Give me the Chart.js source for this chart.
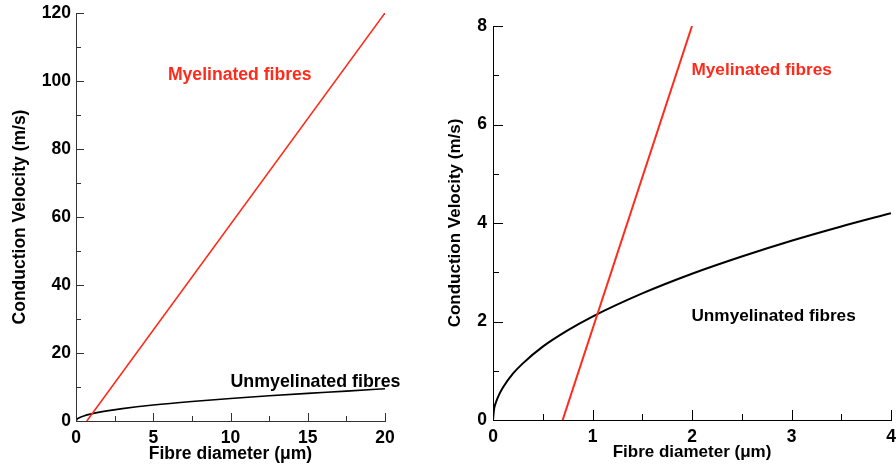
<!DOCTYPE html>
<html>
<head>
<meta charset="utf-8">
<script src="https://cdn.jsdelivr.net/npm/chart.js@4/dist/chart.umd.min.js"></script>
<style>
  html, body { margin: 0; padding: 0; background: #fff; }
  #wrap { position: relative; width: 896px; height: 466px; overflow: hidden; }
  .pane { position: absolute; top: 0; }
</style>
</head>
<body>
<div id="wrap">
  <div class="pane" style="left:0;width:440px;height:466px;"><canvas id="cLeft"></canvas></div>
  <div class="pane" style="left:440px;width:456px;height:466px;"><canvas id="cRight"></canvas></div>
</div>
<script>
// ---------- DATA ----------
// Left panel (0–20 µm)
const leftMyelDiameter = [0.7, 20];
const leftMyelVelocity = [0, 120];
const leftUnmyDiameter = [0, 0.1, 0.25, 0.5, 1, 2, 3, 5, 7.5, 10, 12.5, 15, 17.5, 20];
const leftUnmyVelocity = [0, 0.66, 1.05, 1.5, 2.1, 2.97, 3.64, 4.7, 5.75, 6.64, 7.42, 8.13, 8.78, 9.5];
const leftXTicks = [0, 5, 10, 15, 20];
const leftXMinor = [2.5, 7.5, 12.5, 17.5];
const leftYTicks = [0, 20, 40, 60, 80, 100, 120];
const leftYMinor = [10, 30, 50, 70, 90, 110];

// Right panel (0–4 µm)
const rightMyelDiameter = [0.7, 2];
const rightMyelVelocity = [0, 8];
const rightUnmyDiameter = [0, 0.01, 0.03, 0.06, 0.1, 0.2, 0.3, 0.5, 0.75, 1, 1.5, 2, 2.5, 3, 3.5, 4];
const rightUnmyVelocity = [0, 0.21, 0.36, 0.51, 0.66, 0.94, 1.15, 1.49, 1.82, 2.1, 2.57, 2.97, 3.32, 3.64, 3.93, 4.2];
const rightXTicks = [0, 1, 2, 3, 4];
const rightXMinor = [0.5, 1.5, 2.5, 3.5];
const rightYTicks = [0, 2, 4, 6, 8];
const rightYMinor = [1, 3, 5, 7];

const xTitle = 'Fibre diameter (\u03bcm)';
const yTitle = 'Conduction Velocity (m/s)';
const myelLabel = 'Myelinated fibres';
const unmyLabel = 'Unmyelinated fibres';

// ---------- helpers ----------
const FONT = '"Liberation Sans", Arial, Helvetica, sans-serif';
const RED = '#ff2a1a';
const toPts = (xs, ys) => xs.map((x, i) => ({ x: x, y: ys[i] }));

// Inward tick marks drawn through the chart's own scales
const inwardTicks = {
  id: 'inwardTicks',
  afterDraw(chart, args, o) {
    const ctx = chart.ctx, xs = chart.scales.x, ys = chart.scales.y, a = chart.chartArea;
    ctx.save();
    ctx.strokeStyle = o.color; ctx.lineWidth = 1;
    ctx.beginPath();
    const xl = (v, len) => { const p = Math.round(xs.getPixelForValue(v)) + 0.5; ctx.moveTo(p, a.bottom); ctx.lineTo(p, a.bottom - len); };
    const yl = (v, len) => { const p = Math.round(ys.getPixelForValue(v)) + 0.5; ctx.moveTo(a.left, p); ctx.lineTo(a.left + len, p); };
    o.xMajor.forEach(v => xl(v, o.major));
    o.xMinor.forEach(v => xl(v, o.minor));
    o.yMajor.forEach(v => yl(v, o.major));
    o.yMinor.forEach(v => yl(v, o.minor));
    ctx.stroke();
    ctx.restore();
  }
};

// Text labels placed in data coordinates
const curveLabels = {
  id: 'curveLabels',
  afterDatasetsDraw(chart, args, o) {
    const ctx = chart.ctx;
    ctx.save();
    ctx.textAlign = 'center'; ctx.textBaseline = 'middle';
    o.items.forEach(it => {
      ctx.font = 'bold ' + it.size + 'px ' + FONT;
      ctx.fillStyle = it.color;
      ctx.fillText(it.text, chart.scales.x.getPixelForValue(it.x), chart.scales.y.getPixelForValue(it.y));
    });
    ctx.restore();
  }
};

function makeChart(id, cfg) {
  return new Chart(document.getElementById(id), {
    type: 'scatter',
    data: {
      datasets: [
        { data: toPts(cfg.myX, cfg.myY), showLine: true, borderColor: RED, borderWidth: cfg.lw, pointRadius: 0, fill: false },
        { data: toPts(cfg.unX, cfg.unY), showLine: true, borderColor: '#000', borderWidth: cfg.lw, pointRadius: 0, fill: false, cubicInterpolationMode: 'monotone' }
      ]
    },
    options: {
      responsive: true, maintainAspectRatio: false, animation: false,
      events: [],
      layout: { padding: cfg.padding },
      plugins: {
        legend: { display: false }, tooltip: { enabled: false },
        inwardTicks: { color: cfg.axisColor, major: cfg.major, minor: cfg.minor, xMajor: cfg.xTicks, xMinor: cfg.xMinor, yMajor: cfg.yTicks, yMinor: cfg.yMinor },
        curveLabels: { items: cfg.labels }
      },
      scales: {
        x: {
          type: 'linear', min: cfg.xTicks[0], max: cfg.xTicks[cfg.xTicks.length - 1],
          afterBuildTicks: s => { s.ticks = cfg.xTicks.map(v => ({ value: v })); },
          afterFit: s => { s.height = cfg.xAxisH; s.paddingLeft = 0; s.paddingRight = 0; },
          grid: { display: false, drawTicks: false },
          border: { display: true, color: cfg.axisColor, width: 1 },
          ticks: { color: '#000', font: { family: FONT, size: cfg.tickSize, weight: 'bold' }, padding: cfg.xTickPad, maxRotation: 0, autoSkip: false },
          title: { display: true, text: xTitle, color: '#000', font: { family: FONT, size: cfg.titleSize, weight: 'bold' }, padding: cfg.xTitlePad }
        },
        y: {
          type: 'linear', min: cfg.yTicks[0], max: cfg.yTicks[cfg.yTicks.length - 1],
          afterBuildTicks: s => { s.ticks = cfg.yTicks.map(v => ({ value: v })); },
          afterFit: s => { s.width = cfg.yAxisW; s.paddingTop = 0; s.paddingBottom = 0; },
          grid: { display: false, drawTicks: false },
          border: { display: true, color: cfg.axisColor, width: 1 },
          ticks: { color: '#000', font: { family: FONT, size: cfg.tickSize, weight: 'bold' }, padding: cfg.yTickPad, autoSkip: false },
          title: { display: true, text: yTitle, color: '#000', font: { family: FONT, size: cfg.titleSize, weight: 'bold' }, padding: cfg.yTitlePad }
        }
      }
    },
    plugins: [inwardTicks, curveLabels]
  });
}

makeChart('cLeft', {
  myX: leftMyelDiameter, myY: leftMyelVelocity, unX: leftUnmyDiameter, unY: leftUnmyVelocity,
  xTicks: leftXTicks, xMinor: leftXMinor, yTicks: leftYTicks, yMinor: leftYMinor,
  lw: 1.6, axisColor: '#333', major: 8, minor: 5,
  padding: { top: 13, right: 55, left: 0, bottom: 0 },
  xAxisH: 45, yAxisW: 76, tickSize: 17.5, titleSize: 17.5,
  xTickPad: 7, yTickPad: 5, xTitlePad: { top: 0, bottom: 1 }, yTitlePad: { top: 10, bottom: 0 },
  labels: [
    { text: myelLabel, x: 10.6, y: 101.8, color: RED, size: 17.6 },
    { text: unmyLabel, x: 15.5, y: 11.5, color: '#000', size: 17.8 }
  ]
});

makeChart('cRight', {
  myX: rightMyelDiameter, myY: rightMyelVelocity, unX: rightUnmyDiameter, unY: rightUnmyVelocity,
  xTicks: rightXTicks, xMinor: rightXMinor, yTicks: rightYTicks, yMinor: rightYMinor,
  lw: 2, axisColor: '#000', major: 10, minor: 6,
  padding: { top: 26, right: 5, left: 0, bottom: 0 },
  xAxisH: 46, yAxisW: 53, tickSize: 17.5, titleSize: 17,
  xTickPad: 7, yTickPad: 6, xTitlePad: { top: 0, bottom: 3 }, yTitlePad: { top: 5, bottom: 0 },
  labels: [
    { text: myelLabel, x: 2.7, y: 7.1, color: RED, size: 17.2 },
    { text: unmyLabel, x: 2.82, y: 2.11, color: '#000', size: 17.2 }
  ]
});
</script>
</body>
</html>
